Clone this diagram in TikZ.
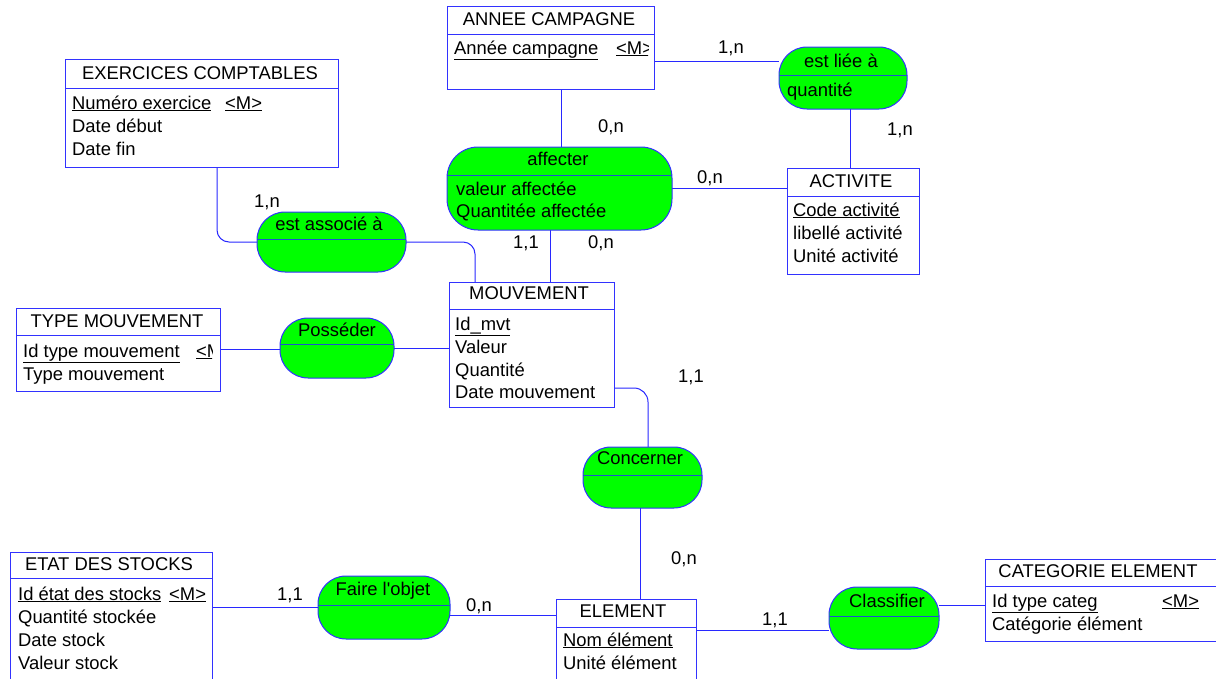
\documentclass[tikz,border=0pt]{standalone}
\usepackage{fontspec}
\setmainfont{Liberation Sans}
\usetikzlibrary{backgrounds}
\definecolor{boxblue}{RGB}{50,50,255}
\definecolor{linkblue}{RGB}{40,40,255}
\definecolor{assocgreen}{RGB}{0,255,0}
\definecolor{sepblue}{RGB}{30,80,210}

\begin{document}
\begin{tikzpicture}[x=1pt, y=-1pt,
    every node/.style={font=\fontsize{18.4}{23}\selectfont},
    entity/.style={draw=boxblue, fill=white, line width=1pt, inner sep=0pt, outer sep=0pt, anchor=north west},
    assoc/.style={draw=boxblue, fill=assocgreen, line width=1pt, rounded corners=28pt, inner sep=0pt, outer sep=0pt, anchor=north west},
    sepline/.style={draw=boxblue, line width=1pt},
    assocsep/.style={draw=sepblue, line width=1pt},
    link/.style={draw=linkblue, line width=1pt},
    attr/.style={anchor=base west, inner sep=0pt},
    title/.style={anchor=base, inner sep=0pt},
    card/.style={anchor=base west, inner sep=0pt}]
        \useasboundingbox (0,0) rectangle (1216,678);

        % Entities
        \node[entity, minimum width=273pt, minimum height=108pt] (exer) at (65,59) {};
        \node[entity, minimum width=207pt, minimum height=83pt] (annee) at (447,6) {};
        \node[entity, minimum width=132pt, minimum height=106pt] (activ) at (787,168) {};
        \node[entity, minimum width=204pt, minimum height=83pt] (typemvt) at (16,308) {};
        \node[entity, minimum width=165pt, minimum height=125pt] (mvt) at (449,282) {};
        \node[entity, minimum width=202pt, minimum height=140pt] (etat) at (10,552) {};
        \node[entity, minimum width=140pt, minimum height=100pt] (elem) at (556,599) {};
        \node[entity, minimum width=240pt, minimum height=82pt] (categ) at (985,559) {};

        \draw[sepline] ([yshift=-29pt]exer.north west) -- ([yshift=-29pt]exer.north east);
        \draw[sepline] ([yshift=-28pt]annee.north west) -- ([yshift=-28pt]annee.north east);
        \draw[sepline] ([yshift=-28pt]activ.north west) -- ([yshift=-28pt]activ.north east);
        \draw[sepline] ([yshift=-27pt]typemvt.north west) -- ([yshift=-27pt]typemvt.north east);
        \draw[sepline] ([yshift=-27pt]mvt.north west) -- ([yshift=-27pt]mvt.north east);
        \draw[sepline] ([yshift=-26pt]etat.north west) -- ([yshift=-26pt]etat.north east);
        \draw[sepline] ([yshift=-28pt]elem.north west) -- ([yshift=-28pt]elem.north east);
        \draw[sepline] ([yshift=-27pt]categ.north west) -- ([yshift=-27pt]categ.north east);

        % Associations
        \node[assoc, minimum width=128pt, minimum height=62pt] (liee) at (779,47) {};
        \node[assoc, minimum width=225pt, minimum height=83pt, rounded corners=31pt] (affect) at (447,147) {};
        \node[assoc, minimum width=149pt, minimum height=60pt] (asso) at (257,212) {};
        \node[assoc, minimum width=114pt, minimum height=60pt] (possed) at (280,318) {};
        \node[assoc, minimum width=119pt, minimum height=61pt] (concern) at (583,447) {};
        \node[assoc, minimum width=132pt, minimum height=63pt] (faire) at (318,576) {};
        \node[assoc, minimum width=110pt, minimum height=62pt] (classif) at (829,587) {};

        \draw[assocsep] ([yshift=-28pt]liee.north west) -- ([yshift=-28pt]liee.north east);
        \draw[assocsep] ([yshift=-28pt]affect.north west) -- ([yshift=-28pt]affect.north east);
        \draw[assocsep] ([yshift=-27pt]asso.north west) -- ([yshift=-27pt]asso.north east);
        \draw[assocsep] ([yshift=-26pt]possed.north west) -- ([yshift=-26pt]possed.north east);
        \draw[assocsep] ([yshift=-28pt]concern.north west) -- ([yshift=-28pt]concern.north east);
        \draw[assocsep] ([yshift=-29pt]faire.north west) -- ([yshift=-29pt]faire.north east);
        \draw[assocsep] ([yshift=-29pt]classif.north west) -- ([yshift=-29pt]classif.north east);

        % Links
        \begin{scope}[on background layer]
        \draw[link] ([yshift=-13.5pt]annee.east) -- ([yshift=-13.5pt]annee.east -| liee.west);
        \draw[link] ([xshift=7pt]liee.south) -- ([xshift=7pt]liee.south |- activ.north);
        \draw[link] ([xshift=10.5pt]annee.south) -- ([xshift=10.5pt]annee.south |- affect.north);
        \draw[link] (affect.east) -- (affect.east -| activ.west);
        \draw[link] ([xshift=-9.5pt]affect.south) -- ([xshift=-9.5pt]affect.south |- mvt.north);
        \draw[link, rounded corners=12pt] ([xshift=15.5pt]exer.south) |- (asso.west);
        \draw[link, rounded corners=12pt] (asso.east) -| ([xshift=26pt]mvt.north west);
        \draw[link] (typemvt.east) -- (typemvt.east -| possed.west);
        \draw[link] (possed.east) -- (possed.east -| mvt.west);
        \draw[link, rounded corners=14pt] ([yshift=-43.5pt]mvt.east) -| ([xshift=5.5pt]concern.north);
        \draw[link] ([xshift=-2.5pt]concern.south) -- ([xshift=-2.5pt]concern.south |- elem.north);
        \draw[link] (faire.west -| etat.east) -- (faire.west);
        \draw[link] ([yshift=-7.5pt]faire.east) -- ([yshift=-7.5pt]faire.east -| elem.west);
        \draw[link] ([yshift=-31pt]elem.north east) -- ([yshift=-31pt]elem.north east -| classif.west);
        \draw[link] ([yshift=13pt]classif.east) -- ([yshift=13pt]classif.east -| categ.west);
        \end{scope}

        % Texts of the entities
        \node[title] (exer-t) at (200,79) {EXERCICES COMPTABLES};
        \node[attr] (exer-a1) at (72,109) {\underline{Numéro exercice}};
        \node[attr] (exer-k) at (225,109) {\underline{<M>}};
        \node[attr] (exer-a2) at (72,132) {Date début};
        \node[attr] (exer-a3) at (72,155) {Date fin};

        \node[title] (annee-t) at (549,25) {ANNEE CAMPAGNE};
        \node[attr] (annee-a1) at (454,54) {\underline{Année campagne}};
        \begin{scope}
            \clip (610,30) rectangle (648,70);
            \node[attr] (annee-k) at (616,54) {\underline{<M>}};
        \end{scope}

        \node[title] (activ-t) at (851,187) {ACTIVITE};
        \node[attr] (activ-a1) at (793,216) {\underline{Code activité}};
        \node[attr] (activ-a2) at (793,239) {libellé activité};
        \node[attr] (activ-a3) at (793,262) {Unité activité};

        \node[title] (typemvt-t) at (117,327) {TYPE MOUVEMENT};
        \node[attr] (typemvt-a1) at (23,357) {\underline{Id type mouvement}};
        \begin{scope}
            \clip (190,335) rectangle (212,370);
            \node[attr] (typemvt-k) at (196,357) {\underline{<M>}};
        \end{scope}
        \node[attr] (typemvt-a2) at (23,380) {Type mouvement};

        \node[title] (mvt-t) at (529,299) {MOUVEMENT};
        \node[attr] (mvt-a1) at (455,330) {\underline{Id\_mvt}};
        \node[attr] (mvt-a2) at (455,353) {Valeur};
        \node[attr] (mvt-a3) at (455,376) {Quantité};
        \node[attr] (mvt-a4) at (455,398) {Date mouvement};

        \node[title] (etat-t) at (109,570) {ETAT DES STOCKS};
        \node[attr] (etat-a1) at (18,600) {\underline{Id état des stocks}};
        \node[attr] (etat-k) at (169,600) {\underline{<M>}};
        \node[attr] (etat-a2) at (18,623) {Quantité stockée};
        \node[attr] (etat-a3) at (18,646) {Date stock};
        \node[attr] (etat-a4) at (18,669) {Valeur stock};

        \node[title] (elem-t) at (623,617) {ELEMENT};
        \node[attr] (elem-a1) at (563,646) {\underline{Nom élément}};
        \node[attr] (elem-a2) at (563,669) {Unité élément};

        \node[title] (categ-t) at (1098,577) {CATEGORIE ELEMENT};
        \node[attr] (categ-a1) at (992,607) {\underline{Id type categ}};
        \node[attr] (categ-k) at (1162,607) {\underline{<M>}};
        \node[attr] (categ-a2) at (992,630) {Catégorie élément};

        % Texts of the associations
        \node[title] (liee-t) at (841,67) {est liée à};
        \node[attr] (liee-a1) at (787,96) {quantité};
        \node[title] (affect-t) at (558,165) {affecter};
        \node[attr] (affect-a1) at (456,195) {valeur affectée};
        \node[attr] (affect-a2) at (456,217) {Quantitée affectée};
        \node[title] (asso-t) at (329,230) {est associé à};
        \node[title] (possed-t) at (337,336) {Posséder};
        \node[title] (concern-t) at (640,464) {Concerner};
        \node[title] (faire-t) at (383,595) {Faire l\textquotesingle objet};
        \node[title] (classif-t) at (887,607) {Classifier};

        % Cardinalities
        \node[card] (c1) at (718,53) {1,n};
        \node[card] (c2) at (887,135) {1,n};
        \node[card] (c3) at (598,132) {0,n};
        \node[card] (c4) at (697,183) {0,n};
        \node[card] (c5) at (513,248) {1,1};
        \node[card] (c6) at (588,248) {0,n};
        \node[card] (c7) at (254,207) {1,n};
        \node[card] (c8) at (678,382) {1,1};
        \node[card] (c9) at (671,564) {0,n};
        \node[card] (c10) at (277,600) {1,1};
        \node[card] (c11) at (466,611) {0,n};
        \node[card] (c12) at (762,625) {1,1};
    \end{tikzpicture}
\end{document}
